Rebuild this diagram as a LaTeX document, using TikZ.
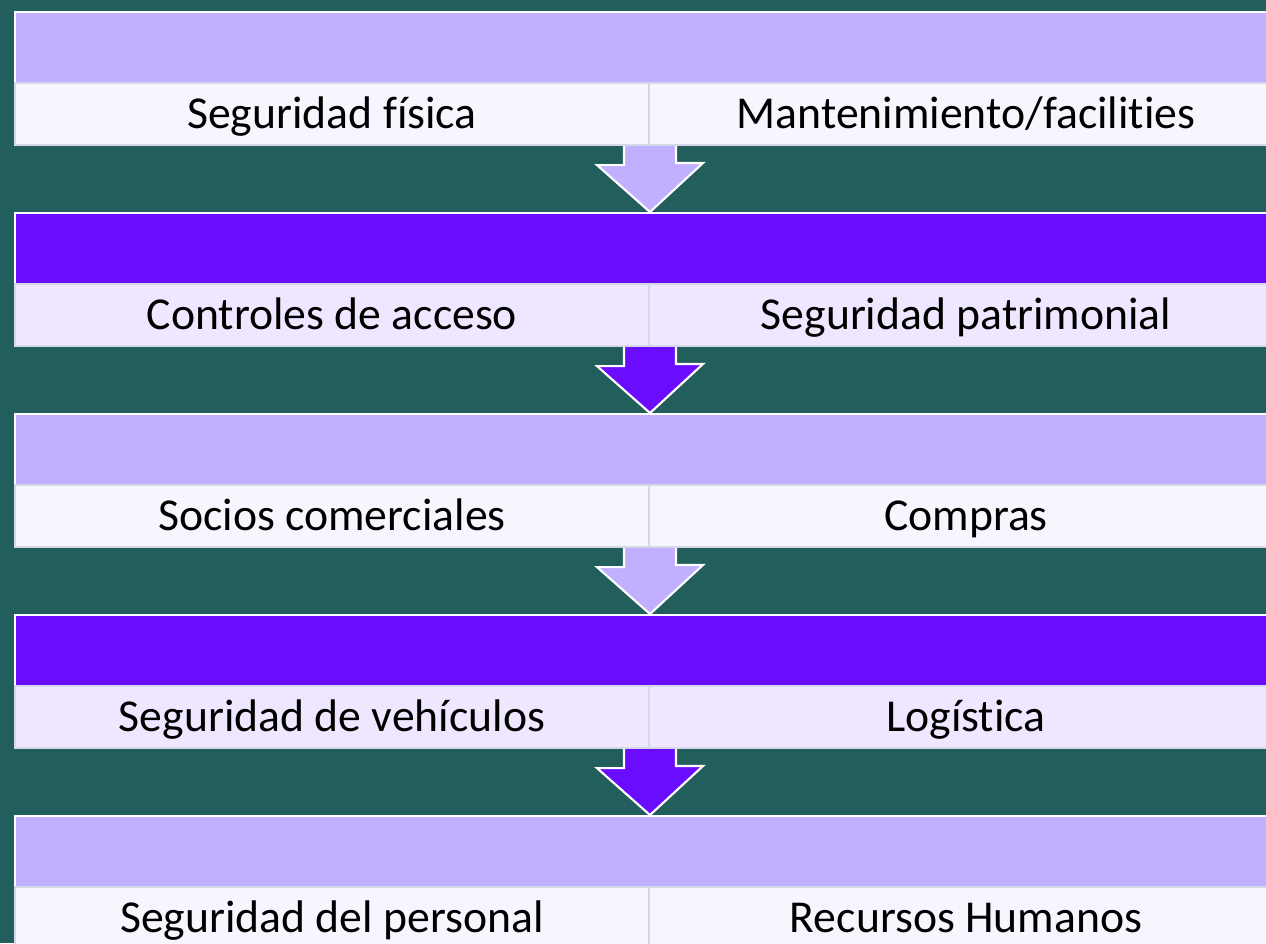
\documentclass[tikz,border=0pt]{standalone}
\usepackage{fontspec}
\setmainfont{Carlito}[Ligatures={NoCommon,NoContextual}]
\usetikzlibrary{calc}
\definecolor{teal}{HTML}{225E5C}
\definecolor{lilac}{HTML}{C0B0FF}
\definecolor{violet}{HTML}{6A0DFF}
\definecolor{paper}{HTML}{F7F5FE}
\definecolor{lavender}{HTML}{EEE7FF}
\definecolor{rule}{HTML}{D5D8E8}
\begin{document}
\begin{tikzpicture}[x=0.02cm,y=-0.02cm]
\tikzstyle{hd}=[rectangle,draw=white,line width=1.2pt,anchor=north west,minimum width=26cm,minimum height=1.42cm,inner sep=0pt]
\tikzstyle{hdl}=[hd,fill=lilac]
\tikzstyle{hdd}=[hd,fill=violet]
\tikzstyle{cell}=[rectangle,draw=rule,line width=1.2pt,anchor=north west,minimum width=12.68cm,minimum height=1.24cm,inner sep=0pt,text height=16.5pt,text depth=0pt,font=\fontsize{26}{30}\selectfont]
\tikzstyle{cl}=[cell,fill=paper]
\tikzstyle{cd}=[cell,fill=lavender]
\tikzstyle{ar}=[draw=white,line width=1.2pt,line join=miter]
\tikzstyle{arl}=[ar,fill=lilac]
\tikzstyle{ard}=[ar,fill=violet]
\fill[teal] (0,0) rectangle (1266,943);
\useasboundingbox (0,0) rectangle (1266,943);
% block 1
\node [hdl] (h1) at (14,11) {};
\node [cl] (a1) at (14,82) {Seguridad física};
\node [cl] (b1) at (648,82) {Mantenimiento/facilities};
% block 2
\node [hdd] (h2) at (14,212) {};
\node [cd] (a2) at (14,283) {Controles de acceso};
\node [cd] (b2) at (648,283) {Seguridad patrimonial};
% block 3
\node [hdl] (h3) at (14,413) {};
\node [cl] (a3) at (14,484) {Socios comerciales};
\node [cl] (b3) at (648,484) {Compras};
% block 4
\node [hdd] (h4) at (14,614) {};
\node [cd] (a4) at (14,685) {Seguridad de vehículos};
\node [cd] (b4) at (648,685) {Logística};
% block 5
\node [hdl] (h5) at (14,815) {};
\node [cl] (a5) at (14,886) {Seguridad del personal};
\node [cl] (b5) at (648,886) {Recursos Humanos};
% arrows
\draw [arl] ($(a1.south east)+(-26,0)$) -- ++(0,19) -- ++(-27,0) -- (a1.south east |- h2.north) -- ++(53,-49) -- ++(-27,0) -- ($(a1.south east)+(26,0)$);
\draw [ard] ($(a2.south east)+(-26,0)$) -- ++(0,19) -- ++(-27,0) -- (a2.south east |- h3.north) -- ++(53,-49) -- ++(-27,0) -- ($(a2.south east)+(26,0)$);
\draw [arl] ($(a3.south east)+(-26,0)$) -- ++(0,19) -- ++(-27,0) -- (a3.south east |- h4.north) -- ++(53,-49) -- ++(-27,0) -- ($(a3.south east)+(26,0)$);
\draw [ard] ($(a4.south east)+(-26,0)$) -- ++(0,19) -- ++(-27,0) -- (a4.south east |- h5.north) -- ++(53,-49) -- ++(-27,0) -- ($(a4.south east)+(26,0)$);
\end{tikzpicture}
\end{document}
